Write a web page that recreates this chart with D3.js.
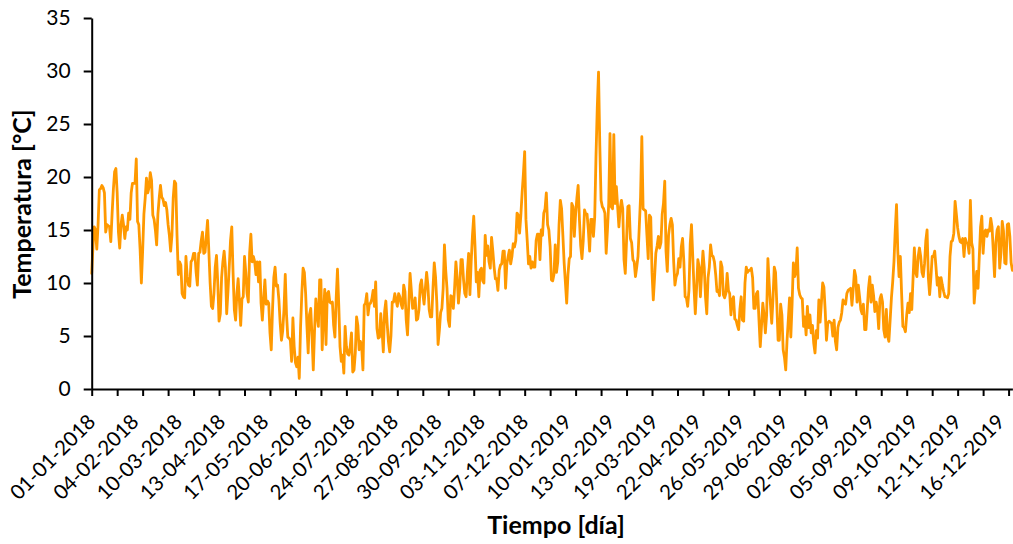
<!DOCTYPE html>
<html>
<head>
<meta charset="utf-8">
<script src="https://cdn.jsdelivr.net/npm/d3@7"></script>
<style>
  html, body { margin: 0; padding: 0; background: #fff; }
  svg { display: block; }
  text { font-family: Lato, "Noto Sans", sans-serif; fill: #000; }
</style>
</head>
<body>
<svg id="chart" width="1013" height="544"></svg>
<script>
// Daily mean temperature (°C), starting 01-01-2018
const startDate = "01-01-2018";

const temps2018 = [
  10.9, 13.5, 15.3, 15.0, 13.2, 15.5, 18.8, 18.9, 19.2, 19.0,
  18.5, 14.8, 15.5, 15.4, 15.3, 13.9, 16.5, 18.8, 20.5, 20.8,
  18.5, 14.8, 13.3, 15.5, 16.4, 15.5, 14.2, 15.3, 15.0, 16.6,
  16.0, 18.5, 19.4, 19.4, 19.4, 21.7, 15.8, 15.5, 13.2, 10.0,
  13.0, 16.5, 18.0, 19.9, 18.5, 19.0, 20.4, 19.7, 16.4, 16.0,
  15.0, 13.6, 16.5, 18.0, 19.2, 18.1, 17.9, 17.3, 17.6, 16.9,
  15.5, 14.5, 13.0, 14.5, 18.0, 19.6, 19.4, 14.5, 10.8, 12.0,
  11.7, 9.0, 8.7, 8.6, 12.5, 10.6, 9.8, 9.7, 12.0, 12.2,
  12.8, 12.8, 11.0, 9.8, 12.8, 12.9, 14.0, 14.8, 12.8, 12.9,
  14.4, 15.9, 13.0, 10.0, 7.8, 7.6, 9.0, 11.5, 12.6, 10.0,
  6.4, 7.1, 10.5, 12.0, 13.0, 11.5, 7.1, 9.2, 11.5, 14.0,
  15.3, 11.0, 7.5, 6.5, 9.0, 10.4, 8.3, 6.0, 8.5, 8.7,
  12.5, 11.0, 9.0, 8.2, 12.8, 14.6, 12.0, 12.5, 12.0, 10.8,
  12.0, 10.1, 12.0, 8.1, 6.5, 8.5, 10.3, 8.0, 8.3, 8.1,
  5.3, 3.7, 7.5, 10.5, 11.5, 9.7, 9.8, 8.4, 6.2, 4.6,
  5.5, 7.5, 10.8, 7.0, 4.9, 4.8, 4.6, 2.6, 6.7, 4.0,
  2.5, 2.1, 3.0, 1.0, 5.8, 9.0, 11.4, 11.0, 9.0, 6.0,
  3.4, 7.0, 7.6, 5.0, 1.8, 5.5, 8.5, 7.0, 5.9, 10.3,
  10.3, 3.7, 7.0, 9.4, 4.2, 9.0, 9.2, 8.2, 8.1, 8.2,
  6.0, 4.9, 8.6, 11.3, 8.0, 4.0, 2.6, 3.2, 1.5, 5.9,
  4.0, 3.3, 3.2, 4.0, 5.3, 1.6, 1.8, 3.4, 6.8, 6.0,
  3.7, 4.5, 4.0, 1.8, 7.9, 8.1, 9.0, 7.0, 8.0, 8.1,
  8.5, 9.3, 7.8, 10.1, 5.7, 4.8, 4.9, 7.1, 5.5, 3.5,
  7.3, 8.3, 6.2, 4.5, 3.5, 5.0, 8.2, 8.2, 9.0, 8.4,
  7.8, 9.0, 8.7, 8.0, 7.6, 9.8, 9.2, 6.5, 5.1, 8.0,
  10.9, 9.3, 7.6, 7.7, 8.6, 6.5, 6.6, 7.5, 9.8, 10.3,
  9.0, 8.0, 9.5, 11.0, 9.8, 7.5, 6.8, 6.8, 9.5, 11.9,
  10.6, 8.2, 4.2, 5.5, 7.2, 7.6, 9.5, 13.6, 11.2, 9.5,
  6.5, 5.9, 8.8, 8.7, 7.6, 9.6, 12.0, 10.5, 8.1, 9.5,
  12.2, 12.2, 10.3, 9.0, 8.7, 11.0, 12.8, 8.9, 12.0, 14.5,
  16.3, 13.5, 10.1, 11.0, 8.7, 11.2, 11.4, 10.2, 10.0, 14.5,
  12.6, 13.5, 12.0, 11.4, 14.3, 13.0, 11.5, 10.4, 10.4, 9.3,
  11.2, 11.7, 11.8, 13.0, 13.0, 9.5, 11.8, 12.5, 13.1, 11.8,
  12.5, 13.7, 13.4, 14.0, 16.6, 16.4, 14.7, 16.4, 18.5, 20.3,
  22.4, 16.0, 14.0, 11.8, 12.5, 11.4, 12.0, 11.5, 11.5, 14.0,
  14.6, 14.6, 12.2, 15.0, 14.5, 16.6, 17.0, 18.5, 15.5, 15.0,
  13.4, 10.3, 10.2, 10.8, 13.6
];

const temps2019 = [
  11.0, 12.0, 15.5, 17.8, 17.0,
  14.5, 11.9, 10.0, 8.1, 10.8, 12.3, 12.5, 17.5, 17.2, 14.4,
  16.5, 18.0, 19.2, 16.0, 13.5, 12.3, 14.0, 16.9, 16.5, 16.5,
  15.0, 13.0, 16.0, 16.0, 14.4, 16.2, 21.9, 26.5, 29.9, 23.0,
  17.8, 17.2, 17.0, 16.6, 12.8, 15.0, 17.5, 24.1, 17.2, 17.0,
  24.0, 17.5, 19.1, 17.2, 15.3, 17.0, 17.8, 17.0, 12.2, 10.9,
  14.0, 17.2, 17.3, 14.2, 13.8, 12.2, 12.0, 10.6, 11.5, 12.5,
  15.3, 18.1, 23.8, 17.0, 16.9, 16.8, 14.5, 12.3, 16.4, 16.2,
  11.0, 8.4, 10.5, 12.8, 13.5, 14.4, 13.3, 13.8, 16.5, 17.5,
  19.6, 13.0, 11.1, 14.5, 15.5, 16.1, 15.5, 12.0, 9.8, 10.6,
  10.9, 12.3, 11.5, 13.4, 14.2, 12.0, 8.7, 8.6, 7.8, 9.3,
  13.7, 15.5, 12.5, 9.5, 7.1, 9.5, 12.2, 11.5, 8.7, 11.0,
  13.0, 11.5, 8.7, 7.1, 10.5, 11.5, 13.6, 12.6, 12.5, 12.0,
  10.8, 9.2, 9.3, 8.8, 12.0, 11.5, 8.9, 8.6, 9.0, 10.9,
  9.3, 9.0, 7.0, 8.4, 8.7, 6.6, 6.5, 6.0, 5.6, 7.5,
  8.7, 6.5, 6.4, 10.0, 11.5, 11.0, 11.2, 11.2, 11.4, 10.5,
  7.6, 7.6, 9.0, 9.2, 6.5, 4.0, 6.0, 8.1, 7.0, 5.3,
  7.0, 12.3, 10.0, 8.0, 6.2, 8.5, 11.5, 11.0, 8.0, 4.6,
  4.6, 8.0, 7.0, 3.7, 3.0, 1.8, 4.5, 6.5, 8.6, 4.9,
  8.0, 11.9, 10.6, 11.0, 13.3, 9.5, 8.9, 8.6, 8.5, 5.9,
  6.8, 5.1, 7.8, 5.8, 7.0, 5.3, 6.0, 4.3, 3.4, 5.5,
  4.8, 8.4, 6.3, 8.1, 10.0, 9.6, 7.4, 4.6, 6.2, 6.4,
  6.3, 6.2, 5.0, 6.5, 4.5, 3.7, 5.8, 6.3, 6.5, 7.2,
  8.4, 8.1, 8.0, 9.0, 9.3, 9.4, 9.5, 7.9, 9.4, 11.2,
  10.6, 8.2, 9.8, 8.7, 7.5, 7.1, 8.0, 5.6, 5.6, 7.5,
  9.5, 10.6, 8.2, 9.8, 8.8, 7.3, 8.2, 7.5, 5.7, 8.5,
  8.9, 8.2, 5.6, 4.9, 7.5, 5.0, 4.5, 6.5, 8.6, 10.1,
  12.0, 15.0, 17.4, 13.0, 10.6, 12.5, 9.0, 5.9, 5.8, 5.4,
  7.0, 8.1, 7.2, 9.0, 7.5, 10.5, 13.3, 11.0, 10.6, 12.5,
  13.3, 12.5, 11.0, 10.6, 11.8, 14.0, 15.0, 10.5, 8.9, 10.5,
  12.5, 12.5, 13.0, 11.5, 9.8, 10.5, 8.7, 10.5, 9.8, 9.2,
  8.7, 8.7, 8.6, 9.0, 12.5, 13.9, 14.0, 14.7, 17.7, 16.5,
  15.2, 14.4, 13.9, 13.8, 14.2, 12.5, 14.2, 13.8, 13.7, 12.8,
  17.8, 13.8, 13.2, 8.1, 9.7, 11.1, 9.5, 12.5, 15.3, 16.3,
  12.8, 14.8, 15.0, 14.4, 15.0, 14.9, 16.1, 15.3, 13.0, 10.6,
  13.8, 15.0, 15.3, 11.4, 12.8, 15.8, 14.9, 11.9, 11.8, 15.5,
  15.6, 14.4, 11.9, 11.2
];

const xLabels = [
  "01-01-2018", "04-02-2018", "10-03-2018", "13-04-2018", "17-05-2018",
  "20-06-2018", "24-07-2018", "27-08-2018", "30-09-2018", "03-11-2018",
  "07-12-2018", "10-01-2019", "13-02-2019", "19-03-2019", "22-04-2019",
  "26-05-2019", "29-06-2019", "02-08-2019", "05-09-2019", "09-10-2019",
  "12-11-2019", "16-12-2019"
];
const yTicks = [0, 5, 10, 15, 20, 25, 30, 35];
const xTitle = "Tiempo [día]";
const yTitle = "Temperatura [°C]";

const parse = d3.utcParse("%d-%m-%Y");
const t0 = parse(startDate);
const temps = temps2018.concat(temps2019);
const data = temps.map((v, i) => ({ date: d3.utcDay.offset(t0, i), value: v }));

const svg = d3.select("#chart");
const plot = { left: 91.7, right: 1012.4, top: 18, bottom: 389 };

const x = d3.scaleUtc()
  .domain([t0, data[data.length - 1].date])
  .range([plot.left, plot.right]);
const y = d3.scaleLinear().domain([0, 35]).range([plot.bottom, plot.top]);

// tick marks every 20 days along the time axis
const tickDates = d3.range(0, temps.length, 20).map(i => d3.utcDay.offset(t0, i));

// series line
svg.append("path")
  .datum(data)
  .attr("fill", "none")
  .attr("stroke", "#FF9900")
  .attr("stroke-width", 2.8)
  .attr("stroke-linejoin", "round")
  .attr("stroke-linecap", "round")
  .attr("d", d3.line().x(d => x(d.date)).y(d => y(d.value)));

// y axis
const yAxis = svg.append("g")
  .attr("transform", `translate(${plot.left},0)`)
  .call(d3.axisLeft(y).tickValues(yTicks).tickSize(8).tickPadding(13).tickSizeOuter(0));
yAxis.select(".domain").attr("stroke", "#000").attr("stroke-width", 2);
yAxis.selectAll(".tick line").attr("stroke", "#000").attr("stroke-width", 2);
yAxis.selectAll(".tick text").attr("font-size", 21).attr("font-family", "Lato").attr("fill", "#000");

// x axis (tick marks only)
const xAxis = svg.append("g")
  .attr("transform", `translate(0,${plot.bottom})`)
  .call(d3.axisBottom(x).tickValues(tickDates).tickSize(7).tickFormat("").tickSizeOuter(0));
xAxis.select(".domain").attr("stroke", "#000").attr("stroke-width", 2);
xAxis.selectAll(".tick line").attr("stroke", "#000").attr("stroke-width", 2);

// rotated date labels
svg.append("g")
  .selectAll("text")
  .data(xLabels)
  .join("text")
  .attr("transform", d => `translate(${x(parse(d)) + 5},423) rotate(-45)`)
  .attr("text-anchor", "end")
  .attr("font-size", 20.5)
  .text(d => d);

// axis titles
svg.append("text")
  .attr("x", 556).attr("y", 534)
  .attr("text-anchor", "middle")
  .attr("font-size", 25).attr("font-weight", "bold")
  .text(xTitle);

svg.append("text")
  .attr("transform", "translate(31,204) rotate(-90)")
  .attr("text-anchor", "middle")
  .attr("font-size", 25).attr("font-weight", "bold")
  .text(yTitle);
</script>
</body>
</html>
